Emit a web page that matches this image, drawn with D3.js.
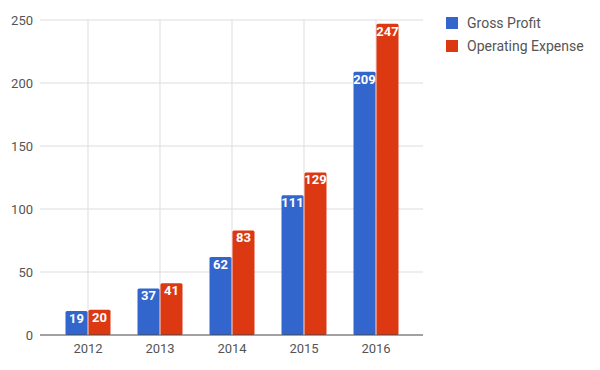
<!DOCTYPE html>
<html><head><meta charset="utf-8">
<script src="https://cdn.jsdelivr.net/npm/d3@7"></script>
<style>body{margin:0;background:#fff;}svg{display:block;font-family:Roboto,Arial,sans-serif;}</style>
</head><body>
<svg id="c" width="600" height="370"></svg>
<script>
const years = ["2012","2013","2014","2015","2016"];
const grossProfit = [19,37,62,111,209];
const operatingExpense = [20,41,83,129,247];
const seriesNames = ["Gross Profit","Operating Expense"];
const colors = ["#3366cc","#dc3912"];
const yTicks = [0,50,100,150,200,250];

(function(){
const svg = d3.select("#c");
const pL = 40, pR = 423, pT = 20, pB = 335;
const x = d3.scaleBand().domain(years).range([52, 412]).paddingInner(0.375).paddingOuter(0.1875);
const y = d3.scaleLinear().domain([0,250]).range([pB, pT]);

// horizontal gridlines
svg.append("g").selectAll("line").data(yTicks.filter(d=>d>0)).join("line")
  .attr("x1", pL).attr("x2", pR)
  .attr("y1", d=>y(d)).attr("y2", d=>y(d))
  .attr("stroke", "#dddddd").attr("stroke-width", 1);
// vertical gridlines
svg.append("g").selectAll("line").data(years).join("line")
  .attr("x1", d=>x(d)+x.bandwidth()/2).attr("x2", d=>x(d)+x.bandwidth()/2)
  .attr("y1", pT).attr("y2", pB)
  .attr("stroke", "#dddddd").attr("stroke-width", 1);

// y labels
svg.append("g").selectAll("text").data(yTicks).join("text")
  .attr("x", 33).attr("y", d=>y(d)).attr("dy", "0.35em")
  .attr("text-anchor", "end").attr("font-size", 13).attr("fill", "#555")
  .text(d=>d);

// bars
const sub = d3.scaleBand().domain([0,1]).range([0, x.bandwidth()]).paddingInner(0.04);
const data = [grossProfit, operatingExpense];
data.forEach((vals, si) => {
  const g = svg.append("g");
  g.selectAll("rect").data(vals).join("rect")
    .attr("x", (d,i)=>x(years[i]) + sub(si))
    .attr("y", d=>y(d)).attr("width", sub.bandwidth())
    .attr("height", d=>y(0)-y(d)).attr("rx", 1.5)
    .attr("fill", colors[si]);
  g.selectAll("text").data(vals).join("text")
    .attr("x", (d,i)=>x(years[i]) + sub(si) + sub.bandwidth()/2)
    .attr("y", d=>y(d) + 12)
    .attr("text-anchor", "middle").attr("font-size", 13).attr("font-weight", "bold")
    .attr("fill", "#fff").text(d=>d);
});

// baseline
svg.append("line").attr("x1", pL).attr("x2", pR).attr("y1", y(0)).attr("y2", y(0))
  .attr("stroke", "#444").attr("stroke-width", 1);

// x labels
svg.append("g").selectAll("text").data(years).join("text")
  .attr("x", d=>x(d)+x.bandwidth()/2).attr("y", 353)
  .attr("text-anchor", "middle").attr("font-size", 13).attr("fill", "#555")
  .text(d=>d);

// legend
const lg = svg.append("g").selectAll("g").data(seriesNames).join("g")
  .attr("transform", (d,i)=>`translate(446,${17 + i*23})`);
lg.append("rect").attr("width", 12).attr("height", 12).attr("fill", (d,i)=>colors[i]);
lg.append("text").attr("x", 21).attr("y", 6).attr("dy", "0.35em")
  .attr("font-size", 14).attr("fill", "#555").text(d=>d);
})();
</script>
</body></html>
